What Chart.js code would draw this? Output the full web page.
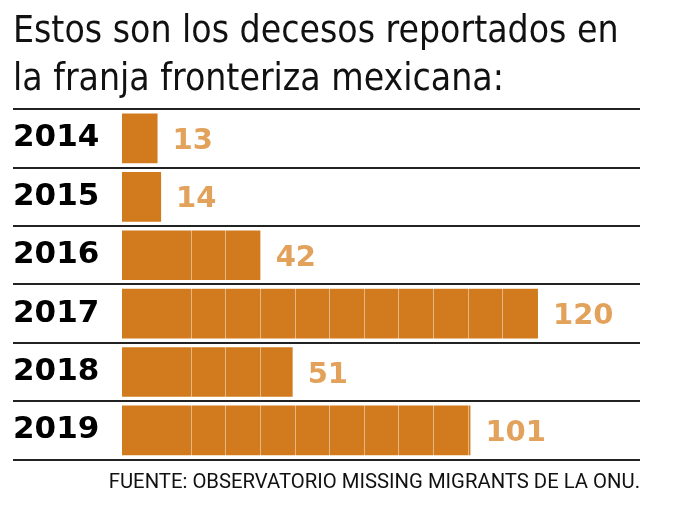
<!DOCTYPE html>
<html>
<head>
<meta charset="utf-8">
<script src="https://cdn.jsdelivr.net/npm/chart.js@4"></script>
<style>
html,body{margin:0;padding:0;background:#fff;}
#wrap{width:681px;height:517px;position:relative;}
</style>
</head>
<body>
<div id="wrap"><canvas id="c"></canvas></div>
<script>
const years = ['2014', '2015', '2016', '2017', '2018', '2019'];
const deaths = [13, 14, 42, 120, 51, 101];
const titleLines = ['Estos son los decesos reportados en', 'la franja fronteriza mexicana:'];
const sourceText = 'FUENTE: OBSERVATORIO MISSING MIGRANTS DE LA ONU.';

const barColor = '#D17B1E';
const labelColor = '#E2A25C';

const valueLabels = {
  id: 'valueLabels',
  afterDraw(chart) {
    const ctx = chart.ctx;
    const meta = chart.getDatasetMeta(0);
    ctx.save();
    ctx.font = 'bold 29px "DejaVu Sans"';
    ctx.fillStyle = labelColor;
    ctx.textBaseline = 'middle';
    ctx.textAlign = 'left';
    meta.data.forEach((el, i) => {
      ctx.fillText(String(chart.data.datasets[0].data[i]), el.x + 15, el.y + 3);
    });
    ctx.restore();
  }
};

new Chart(document.getElementById('c'), {
  type: 'bar',
  data: {
    labels: years,
    datasets: [{
      data: deaths,
      backgroundColor: barColor,
      borderWidth: 0,
      barPercentage: 0.85,
      categoryPercentage: 1
    }]
  },
  options: {
    indexAxis: 'y',
    responsive: true,
    maintainAspectRatio: false,
    animation: false,
    layout: { padding: { left: 13, right: 41, top: 0, bottom: 0 } },
    plugins: {
      legend: { display: false },
      tooltip: { enabled: false },
      title: {
        display: true,
        text: titleLines,
        align: 'start',
        color: '#111',
        font: { family: '"Liberation Sans Narrow", "DejaVu Sans Condensed", "Roboto"', size: 37, weight: 300, lineHeight: 1.3 },
        padding: { top: 8, bottom: 5 }
      },
      subtitle: {
        display: true,
        position: 'bottom',
        text: sourceText,
        align: 'end',
        color: '#111',
        font: { family: '"Roboto"', size: 20.3, weight: 'normal', lineHeight: 1.2 },
        padding: { top: 11, bottom: 22 }
      }
    },
    scales: {
      x: {
        display: false,
        min: 3,
        max: 148.7
      },
      xg: {
        type: 'linear',
        position: 'bottom',
        min: -2,
        max: 12.97,
        ticks: { display: false, stepSize: 1 },
        border: { display: false },
        grid: {
          z: 1,
          drawTicks: false,
          lineWidth: 1,
          color: (c) => (c.tick && c.tick.value >= 0 && c.tick.value <= 9) ? 'rgba(255,255,255,0.45)' : 'rgba(0,0,0,0)'
        }
      },
      y: {
        border: { display: false },
        afterFit: (s) => { s.width = 109; },
        grid: {
          z: 2,
          color: '#222',
          lineWidth: 2,
          drawTicks: true,
          tickLength: 109
        },
        ticks: {
          crossAlign: 'far',
          padding: 0,
          z: 3,
          color: '#000',
          font: { family: '"DejaVu Sans"', size: 31, weight: 'bold' }
        }
      }
    }
  },
  plugins: [valueLabels]
});
</script>
</body>
</html>
